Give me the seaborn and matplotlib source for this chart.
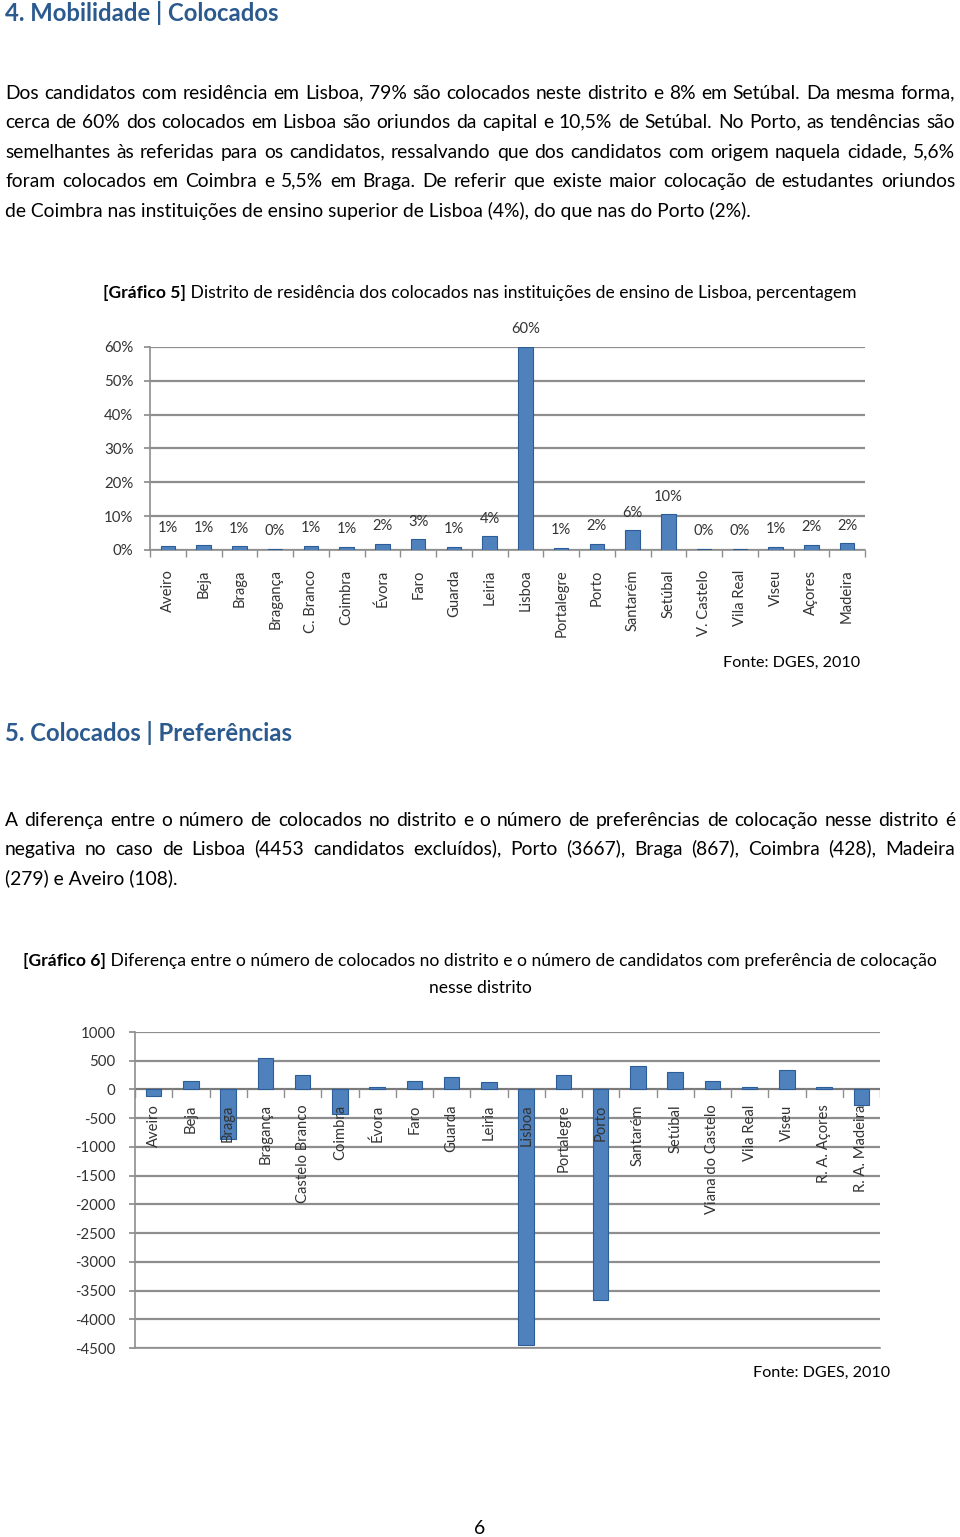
import matplotlib
matplotlib.use("Agg")
import matplotlib.pyplot as plt
from matplotlib.figure import Figure
from matplotlib.backends.backend_agg import FigureCanvasAgg
import seaborn as sns
import numpy as np
import pandas as pd

# ---------------- data ----------------
g5_districts = ["Aveiro", "Beja", "Braga", "Bragança", "C. Branco", "Coimbra", "Évora", "Faro",
                "Guarda", "Leiria", "Lisboa", "Portalegre", "Porto", "Santarém", "Setúbal",
                "V. Castelo", "Vila Real", "Viseu", "Açores", "Madeira"]
g5_pct = [1.2, 1.4, 1.1, 0.3, 1.3, 1.0, 1.8, 3.2, 0.9, 4.0, 60.0, 0.7, 1.9, 5.8, 10.5,
          0.4, 0.4, 1.0, 1.5, 2.0]
g5_yticks = [0, 10, 20, 30, 40, 50, 60]

g6_districts = ["Aveiro", "Beja", "Braga", "Bragança", "Castelo Branco", "Coimbra", "Évora", "Faro",
                "Guarda", "Leiria", "Lisboa", "Portalegre", "Porto", "Santarém", "Setúbal",
                "Viana do Castelo", "Vila Real", "Viseu", "R. A. Açores", "R. A. Madeira"]
g6_diff = [-108, 145, -867, 555, 245, -428, 40, 140, 225, 130, -4453, 260, -3667, 400, 300,
           140, 50, 330, 50, -279]
g6_yticks = [1000, 500, 0, -500, -1000, -1500, -2000, -2500, -3000, -3500, -4000, -4500]

heading1 = "4. Mobilidade | Colocados"
para1 = ["Dos candidatos com residência em Lisboa, 79% são colocados neste distrito e 8% em Setúbal. Da mesma forma,",
         "cerca de 60% dos colocados em Lisboa são oriundos da capital e 10,5% de Setúbal. No Porto, as tendências são",
         "semelhantes às referidas para os candidatos, ressalvando que dos candidatos com origem naquela cidade, 5,6%",
         "foram colocados em Coimbra e 5,5% em Braga. De referir que existe maior colocação de estudantes oriundos",
         "de Coimbra nas instituições de ensino superior de Lisboa (4%), do que nas do Porto (2%)."]
title5 = [("[Gráfico 5]", "bold"), (" Distrito de residência dos colocados nas instituições de ensino de Lisboa, percentagem", "normal")]
heading2 = "5. Colocados | Preferências"
para2 = ["A diferença entre o número de colocados no distrito e o número de preferências de colocação nesse distrito é",
         "negativa no caso de Lisboa (4453 candidatos excluídos), Porto (3667), Braga (867), Coimbra (428), Madeira",
         "(279) e Aveiro (108)."]
title6a = [("[Gráfico 6]", "bold"), (" Diferença entre o número de colocados no distrito e o número de candidatos com preferência de colocação", "normal")]
title6b = [("nesse distrito", "normal")]
source = "Fonte: DGES, 2010"
page_no = "6"

# ---------------- setup ----------------
W, H = 960, 1537
sns.set_theme(style="white")
plt.rcParams['font.family'] = ['Lato', 'DejaVu Sans']

fig = plt.figure(figsize=(W / 100, H / 100), dpi=100)
fig.patch.set_facecolor("white")
renderer = fig.canvas.get_renderer()

HEAD_C = "#2B5A8E"
BAR_C = "#4F81BD"
BAR_E = "#2C5D96"
GRID_C = "#8E8E8E"
TXT_C = "#333333"


def fx(x):
    return x / W


def fy(y):
    return 1 - y / H


def tw(s, **kw):
    t = fig.text(0, 0, s, **kw)
    w = t.get_window_extent(renderer).width
    t.remove()
    return w


# --- baseline correction: measure where each word really lands, so separate words share one baseline
_tfig = Figure(figsize=(12, 1.0), dpi=100)
_tcanvas = FigureCanvasAgg(_tfig)
_tfig.patch.set_facecolor("white")
PREFIX = "ÉÇj|(),"
_cache = {}


def _ink_bottom(s, x_from, fs, weight):
    t = _tfig.text(10 / 1200, 0.4, s, fontsize=fs, fontweight=weight,
                   ha="left", va="baseline", color="black")
    _tcanvas.draw()
    img = np.asarray(_tcanvas.buffer_rgba())[:, :, :3]
    t.remove()
    ink = img.min(axis=2) < 160
    ink = ink[:, int(10 + x_from):]
    rows = np.where(ink.any(axis=1))[0]
    return int(rows.max()) if len(rows) else None


def base_corr(s, fs, weight="normal"):
    key = (s, fs, weight)
    if key not in _cache:
        b1 = _ink_bottom(s, 0, fs, weight)
        pw = tw(PREFIX + " ", fontsize=fs, fontweight=weight)
        b2 = _ink_bottom(PREFIX + " " + s, pw + 1, fs, weight)
        _cache[key] = 0 if (b1 is None or b2 is None) else (b2 - b1)
    return _cache[key]


def put(xpx, ybase, s, fs, weight="normal"):
    c = base_corr(s, fs, weight)
    fig.text(fx(xpx), fy(ybase + c), s, fontsize=fs, fontweight=weight,
             ha="left", va="baseline", color="black")


TITLE_FS = 12.6
BODY_FS = 13.9
BASE_OFF = 6  # px from visual line centre to baseline


def justified(lines, ys, x0=5, x1=955, fs=BODY_FS):
    for k, (line, y) in enumerate(zip(lines, ys)):
        yb = y + BASE_OFF
        if k == len(lines) - 1:
            put(x0, yb, line, fs)
            continue
        words = line.split(" ")
        widths = [tw(w, fontsize=fs) for w in words]
        gap = (x1 - x0 - sum(widths)) / (len(words) - 1)
        x = x0
        for w, wd in zip(words, widths):
            put(x, yb, w, fs)
            x += wd + gap


def centered_runs(runs, y, xc=480, fs=TITLE_FS):
    widths = [tw(s, fontsize=fs, fontweight=wt) for s, wt in runs]
    x = xc - sum(widths) / 2
    for (s, wt), wd in zip(runs, widths):
        put(x, y + 5, s, fs, wt)
        x += wd


# ---------------- text ----------------
fig.text(fx(5), fy(13), heading1, fontsize=17.2, fontweight="bold", color=HEAD_C, ha="left", va="center")
justified(para1, [93, 122, 152, 181, 211])
centered_runs(title5, 293)
fig.text(fx(860), fy(663), source, fontsize=11.6, ha="right", va="center", color="black")
fig.text(fx(5), fy(733), heading2, fontsize=17.2, fontweight="bold", color=HEAD_C, ha="left", va="center")
justified(para2, [820, 849, 879])
centered_runs(title6a, 961)
centered_runs(title6b, 988)
fig.text(fx(890), fy(1373), source, fontsize=11.6, ha="right", va="center", color="black")
fig.text(fx(480), fy(1528), page_no, fontsize=14, ha="center", va="center", color="black")

# ---------------- chart 5 ----------------
ax1 = fig.add_axes([fx(150), fy(550), (865 - 150) / W, (550 - 347) / H])
df5 = pd.DataFrame({"distrito": g5_districts, "pct": g5_pct})
sns.barplot(data=df5, x="distrito", y="pct", ax=ax1, color=BAR_C, width=0.4,
            edgecolor=BAR_E, linewidth=0.8, saturation=1, zorder=3)
ax1.set_xlim(-0.5, len(g5_districts) - 0.5)
ax1.set_ylim(0, 60)
ax1.set_yticks(g5_yticks)
ax1.set_yticklabels([f"{v}%" for v in g5_yticks], fontsize=10.8, color=TXT_C)
ax1.yaxis.grid(True, color=GRID_C, linewidth=1.6, zorder=0)
ax1.set_axisbelow(True)
ax1.set_xlabel("")
ax1.set_ylabel("")
for s in ["top", "right"]:
    ax1.spines[s].set_visible(False)
ax1.spines["left"].set_color(GRID_C)
ax1.spines["bottom"].set_color(GRID_C)
ax1.spines["left"].set_linewidth(1.2)
ax1.spines["bottom"].set_linewidth(1.2)
ax1.set_xticks(range(len(g5_districts)))
ax1.set_xticklabels(g5_districts, rotation=90, fontsize=10.6, color=TXT_C, va="top")
ax1.tick_params(axis="x", length=0, pad=14)
ax1.tick_params(axis="y", length=4, color=GRID_C, left=True, pad=8)
ax1.set_xticks(np.arange(len(g5_districts) + 1) - 0.5, minor=True)
ax1.tick_params(axis="x", which="minor", length=5, color=GRID_C, bottom=True)
for i, v in enumerate(g5_pct):
    ax1.text(i, v + 5.2, f"{v:.0f}%", ha="center", va="center", fontsize=10.6, color=TXT_C, clip_on=False)

# ---------------- chart 6 ----------------
ax2 = fig.add_axes([fx(135), fy(1348), (880 - 135) / W, (1348 - 1032) / H])
df6 = pd.DataFrame({"distrito": g6_districts, "diff": g6_diff})
sns.barplot(data=df6, x="distrito", y="diff", ax=ax2, color=BAR_C, width=0.42,
            edgecolor=BAR_E, linewidth=0.8, saturation=1, zorder=3)
ax2.set_xlim(-0.5, len(g6_districts) - 0.5)
ax2.set_ylim(-4500, 1000)
ax2.set_yticks(g6_yticks)
ax2.set_yticklabels([str(v) for v in g6_yticks], fontsize=10.8, color=TXT_C)
ax2.yaxis.grid(True, color=GRID_C, linewidth=1.6, zorder=0)
ax2.set_axisbelow(True)
ax2.set_xlabel("")
ax2.set_ylabel("")
for s in ["top", "right"]:
    ax2.spines[s].set_visible(False)
ax2.spines["left"].set_color(GRID_C)
ax2.spines["bottom"].set_color(GRID_C)
ax2.spines["left"].set_linewidth(1.2)
ax2.spines["bottom"].set_linewidth(1.2)
ax2.axhline(0, color="#7A7A7A", linewidth=1.4, zorder=2)
ax2.set_xticks(np.arange(len(g6_districts) + 1) - 0.5)
ax2.set_xticklabels([])
ax2.tick_params(axis="x", length=0)
ax2.tick_params(axis="y", length=4, color=GRID_C, left=True, pad=10)
for i in range(len(g6_districts) + 1):
    ax2.plot([i - 0.5, i - 0.5], [0, -130], color=GRID_C, linewidth=1.0, zorder=2)
for i, name in enumerate(g6_districts):
    ax2.text(i, -260, name, rotation=90, ha="center", va="top", fontsize=10.6,
             color=TXT_C, zorder=5, clip_on=False)

fig.savefig("out.png", dpi=100, facecolor="white")
